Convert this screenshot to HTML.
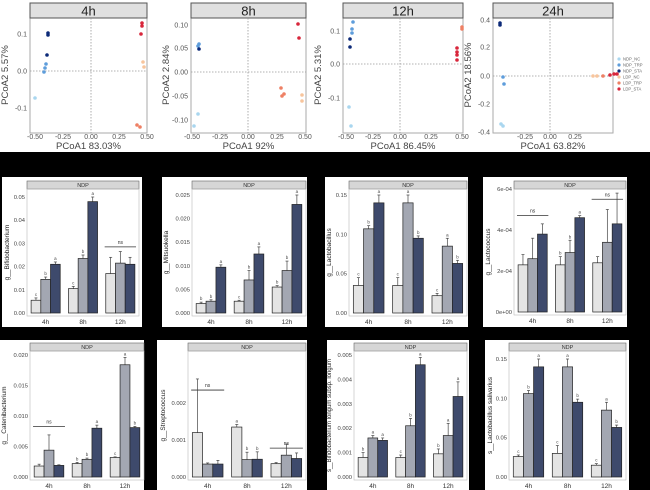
<!DOCTYPE html>
<html><head><meta charset="utf-8"><style>
html,body{margin:0;padding:0;background:#000;}
svg{display:block;font-family:"Liberation Sans",sans-serif;}
</style></head><body>
<svg id="s" width="650" height="490" viewBox="0 0 650 490" xmlns="http://www.w3.org/2000/svg">
<rect x="0" y="0" width="650" height="490" fill="#000"/>
<rect x="0" y="0" width="650" height="152" fill="#fff"/>
</svg>
<script>
const S=document.getElementById('s');const NS='http://www.w3.org/2000/svg';
function el(t,a,txt){const e=document.createElementNS(NS,t);for(const k in a)e.setAttribute(k,a[k]);if(txt!==undefined)e.textContent=txt;S.appendChild(e);return e;}
const C={nc:'#a9d6ef',trp:'#5e9ddb',sta:'#0c2a78',lnc:'#f7c59d',ltrp:'#ee8064',lsta:'#d8263b'};
function pcoa(p){
 el('rect',{x:p.x0,y:18,width:p.x1-p.x0,height:115,fill:'#fff',stroke:'#aaa','stroke-width':1});
 el('rect',{x:p.x0,y:3,width:p.x1-p.x0,height:15,fill:'#e0e0e0',stroke:'#555','stroke-width':1});
 el('text',{x:(p.x0+p.x1)/2,y:15.5,'font-size':13,'text-anchor':'middle',fill:'#222'},p.t);
 el('line',{x1:p.zx,x2:p.zx,y1:18,y2:133,stroke:'#999','stroke-width':0.8,'stroke-dasharray':'1.5,1.5'});
 el('line',{x1:p.x0,x2:p.x1,y1:p.zy,y2:p.zy,stroke:'#999','stroke-width':0.8,'stroke-dasharray':'1.5,1.5'});
 p.yt.forEach(([v,y])=>el('text',{x:p.x0-3,y:y+2.5,'font-size':7,'text-anchor':'end',fill:'#555'},v));
 p.xt.forEach(([v,x])=>el('text',{x:x,y:139,'font-size':7,'text-anchor':'middle',fill:'#555'},v));
 el('text',{x:(p.x0+p.x1)/2,y:149,'font-size':9.5,'text-anchor':'middle',fill:'#444'},p.xl);
 el('text',{x:0,y:0,'font-size':9.5,'text-anchor':'middle',fill:'#444',transform:`translate(${p.x0-22},75) rotate(-90)`},p.yl);
 p.pts.forEach(([c,x,y])=>el('circle',{cx:x,cy:y,r:1.8,fill:C[c]}));
}
pcoa({x0:30,x1:147,t:'4h',zx:91,zy:71,yt:[['0.1',34],['0.0',71],['-0.1',108]],xt:[['-0.50',35],['-0.25',63],['0.00',91],['0.25',119],['0.50',147]],xl:'PCoA1 83.03%',yl:'PCoA2 5.57%',
 pts:[['sta',48,33],['sta',48,35],['sta',47,55],['trp',46,64],['trp',45,68],['trp',44,72],['nc',35,98],['lsta',142,23],['lsta',142,26],['lsta',141,34],['lnc',143,62],['lnc',144,67],['ltrp',137,125],['ltrp',140,127]]});
pcoa({x0:191,x1:306,t:'8h',zx:248,zy:72,yt:[['0.10',25],['0.05',48],['0.00',72],['-0.05',96],['-0.10',120]],xt:[['-0.50',192],['-0.25',220],['0.00',248],['0.25',277],['0.50',305]],xl:'PCoA1 92%',yl:'PCoA2 2.84%',
 pts:[['lsta',298,24],['lsta',299,38],['trp',199,44],['trp',198,46],['sta',199,49],['ltrp',281,88],['ltrp',284,94],['ltrp',282,96],['lnc',302,95],['lnc',302,101],['nc',198,114],['nc',194,126]]});
pcoa({x0:343,x1:463,t:'12h',zx:400,zy:64,yt:[['0.1',31],['0.0',64],['-0.1',98]],xt:[['-0.50',346],['-0.25',373],['0.00',400],['0.25',431],['0.50',462]],xl:'PCoA1 86.45%',yl:'PCoA2 5.31%',
 pts:[['trp',353,22],['trp',352,29],['trp',352,33],['sta',350,39],['sta',350,47],['ltrp',462,27],['ltrp',462,29],['lsta',457,48],['lsta',457,52],['lsta',457,55],['lsta',457,60],['nc',349,107],['nc',351,126]]});
pcoa({x0:493,x1:613,t:'24h',zx:550,zy:76,yt:[['0.4',20],['0.2',47],['0.0',76],['-0.2',104],['-0.4',132]],xt:[['-0.25',525],['0.00',550],['0.25',575]],xl:'PCoA1 63.82%',yl:'PCoA2 18.56%',
 pts:[['sta',500,23],['sta',500,25],['trp',503,77],['trp',504,84],['nc',501,124],['nc',503,126],['lnc',593,76],['lnc',597,76],['ltrp',603,76],['lsta',610,75],['lsta',614,74],['lsta',617,74]]});
[['nc','NDP_NC'],['trp','NDP_TRP'],['sta','NDP_STA'],['lnc','LDP_NC'],['ltrp','LDP_TRP'],['lsta','LDP_STA']].forEach(([c,t],i)=>{
 el('circle',{cx:619,cy:59+i*6,r:1.6,fill:C[c]});el('text',{x:623,y:60.5+i*6,'font-size':4.2,fill:'#666'},t);});
const BC=['#e4e4e4','#a3a7b2','#3e4a6c'];
function bars(p){
 el('rect',{x:p.bx0,y:p.by0,width:p.bx1-p.bx0,height:p.by1-p.by0,fill:'#fff'});
 const bot=p.zero+3;
 el('rect',{x:p.x0,y:p.sy0,width:p.x1-p.x0,height:8,fill:'#d6d6d6',stroke:'#666','stroke-width':0.6});
 el('text',{x:(p.x0+p.x1)/2,y:p.sy0+6,'font-size':5.5,'text-anchor':'middle',fill:'#333'},'NDP');
 el('rect',{x:p.x0,y:p.sy0+8,width:p.x1-p.x0,height:bot-p.sy0-8,fill:'none',stroke:'#bbb','stroke-width':0.6});
 const sc=(p.zero-p.ty)/p.tv; const Y=v=>p.zero-v*sc;
 p.ticks.forEach(([lab,v])=>{el('text',{x:p.x0-2,y:Y(v)+2,'font-size':5.8,'text-anchor':'end',fill:'#444'},lab);});
 const w=(p.x1-p.x0)/3, bw=w*0.26;
 ['4h','8h','12h'].forEach((g,i)=>{
  const cx=p.x0+w*(i+0.5);
  el('text',{x:cx,y:bot+8,'font-size':6.5,'text-anchor':'middle',fill:'#333'},g);
  p.d[i].forEach((v,j)=>{
   const x=cx-1.5*bw+j*bw;const e=p.e[i][j];
   el('line',{x1:x+bw/2,x2:x+bw/2,y1:Y(v),y2:Y(v+e),stroke:'#444','stroke-width':0.7});
   el('line',{x1:x+bw/2-1.5,x2:x+bw/2+1.5,y1:Y(v+e),y2:Y(v+e),stroke:'#444','stroke-width':0.7});
   el('rect',{x:x,y:Y(v),width:bw,height:v*sc,fill:BC[j],stroke:'#222','stroke-width':0.7});
   if(p.l[i]&&p.l[i][j]) el('text',{x:x+bw/2,y:Y(v+e)-2,'font-size':4.5,'text-anchor':'middle',fill:'#444'},p.l[i][j]);
  });
  if(p.ns&&p.ns[i]!=null){const yy=Y(p.ns[i]);el('line',{x1:cx-w*0.42,x2:cx+w*0.42,y1:yy,y2:yy,stroke:'#333','stroke-width':0.8});
   el('text',{x:cx,y:yy-3,'font-size':5,'text-anchor':'middle',fill:'#333'},'ns');}
 });
 el('text',{x:0,y:0,'font-size':p.yfs||6.5,'text-anchor':'middle',fill:'#222',transform:`translate(${p.ylx},${(p.sy0+bot)/2+4}) rotate(-90)`},p.yl);
}
const r1={by0:177,by1:327,sy0:181};const r2={by0:340,by1:490,sy0:343};
bars({...r1,bx0:2,bx1:142,x0:27,x1:139,zero:313,ty:197,tv:0.05,yl:'g__Bifidobacterium',ylx:9,
 ticks:[['0.00',0],['0.01',.01],['0.02',.02],['0.03',.03],['0.04',.04],['0.05',.05]],
 d:[[.0055,.0145,.021],[.0105,.0235,.048],[.017,.0215,.021]],e:[[.001,.001,.001],[.001,.0015,.002],[.007,.005,.003]],
 l:[['c','b','a'],['c','b','a'],null],ns:[null,null,.0285]});
bars({...r1,bx0:162,bx1:307,x0:192,x1:306,zero:313,ty:195,tv:0.025,yl:'g__Mitsuokella',ylx:168,
 ticks:[['0.000',0],['0.005',.005],['0.010',.01],['0.015',.015],['0.020',.02],['0.025',.025]],
 d:[[.002,.0025,.0097],[.0025,.007,.0125],[.0055,.009,.023]],e:[[.0003,.0003,.0005],[.0002,.002,.0015],[.0003,.002,.002]],
 l:[['b','b','a'],['c','b','a'],['b','b','a']]});
bars({...r1,bx0:325,bx1:468,x0:349,x1:467,zero:313,ty:195,tv:0.15,yl:'g__Lactobacillus',ylx:331,
 ticks:[['0.00',0],['0.05',.05],['0.10',.1],['0.15',.15]],
 d:[[.035,.107,.14],[.035,.14,.095],[.022,.085,.063]],e:[[.01,.004,.01],[.01,.01,.003],[.003,.01,.004]],
 l:[['c','b','a'],['c','a','b'],['c','a','b']]});
bars({...r1,bx0:483,bx1:627,x0:514,x1:626,zero:312,ty:189,tv:6e-4,yl:'g__Lactococcus',ylx:490,
 ticks:[['0e+00',0],['2e-04',2e-4],['4e-04',4e-4],['6e-04',6e-4]],
 d:[[2.3e-4,2.6e-4,3.8e-4],[2.3e-4,2.9e-4,4.6e-4],[2.4e-4,3.4e-4,4.3e-4]],e:[[.5e-4,1e-4,.5e-4],[.4e-4,.6e-4,.1e-4],[.3e-4,1.6e-4,1.5e-4]],
 l:[null,['b','b','a'],null],ns:[4.7e-4,null,5.5e-4]});
bars({...r2,bx0:0,bx1:144,x0:30,x1:144,zero:477,ty:355,tv:0.02,yl:'g__Catenibacterium',ylx:6,
 ticks:[['0.000',0],['0.005',.005],['0.010',.01],['0.015',.015],['0.020',.02]],
 d:[[.0018,.0044,.0019],[.0022,.0029,.008],[.0032,.0184,.0081]],e:[[.0003,.0025,.0001],[.0002,.0002,.0005],[.0001,.0012,.0002]],
 l:[null,['b','b','a'],['c','a','b']],ns:[.0083,null,null]});
bars({...r2,bx0:157,bx1:307,x0:188,x1:306,zero:477,ty:403,tv:0.002,yl:'g__Streptococcus',ylx:165,
 ticks:[['0.000',0],['0.001',.001],['0.002',.002]],
 d:[[.0012,.00035,.00035],[.00135,.00047,.00048],[.00036,.00059,.0005]],e:[[.00145,.00003,.0001],[.00007,.0002,.0002],[.00003,.0003,.00015]],
 l:[null,['a','b','b'],null],ns:[.00235,null,.00078]});
bars({...r2,bx0:327,bx1:469,x0:354,x1:467,zero:477,ty:355,tv:0.005,yl:'s__Bifidobacterium longum subsp. longum',ylx:331,yfs:6,
 ticks:[['0.000',0],['0.001',.001],['0.002',.002],['0.003',.003],['0.004',.004],['0.005',.005]],
 d:[[.0008,.0016,.0015],[.0008,.0021,.0046],[.00095,.0017,.0033]],e:[[.0002,.0001,.0001],[.0001,.0003,.0003],[.0002,.0005,.0006]],
 l:[['b','a','a'],['c','b','a'],['b','a','a']]});
bars({...r2,bx0:485,bx1:629,x0:509,x1:626,zero:477,ty:359,tv:0.15,yl:'s__Lactobacillus salivarius',ylx:492,
 ticks:[['0.00',0],['0.05',.05],['0.10',.1],['0.15',.15]],
 d:[[.026,.106,.14],[.03,.14,.095],[.015,.085,.063]],e:[[.002,.004,.01],[.01,.01,.004],[.002,.01,.003]],
 l:[['c','b','a'],['c','a','b'],['c','a','b']]});
</script>
</body></html>
